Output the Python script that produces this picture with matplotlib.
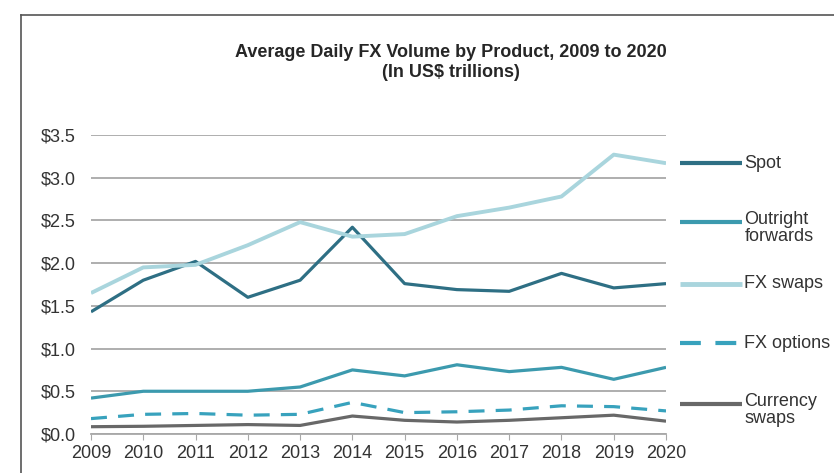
import matplotlib.pyplot as plt
from matplotlib.lines import Line2D

plt.rcParams['font.family'] = ['Liberation Sans', 'DejaVu Sans']

years = [2009, 2010, 2011, 2012, 2013, 2014, 2015, 2016, 2017, 2018, 2019, 2020]

spot = [1.43, 1.80, 2.02, 1.60, 1.80, 2.42, 1.76, 1.69, 1.67, 1.88, 1.71, 1.76]
outright = [0.42, 0.50, 0.50, 0.50, 0.55, 0.75, 0.68, 0.81, 0.73, 0.78, 0.64, 0.78]
fx_swaps = [1.65, 1.95, 1.98, 2.21, 2.48, 2.31, 2.34, 2.55, 2.65, 2.78, 3.27, 3.17]
fx_options = [0.18, 0.23, 0.24, 0.22, 0.23, 0.37, 0.25, 0.26, 0.28, 0.33, 0.32, 0.27]
cur_swaps = [0.085, 0.09, 0.10, 0.11, 0.10, 0.21, 0.16, 0.14, 0.16, 0.19, 0.22, 0.15]

y_ticks = [0.0, 0.5, 1.0, 1.5, 2.0, 2.5, 3.0, 3.5]
y_labels = ['$0.0', '$0.5', '$1.0', '$1.5', '$2.0', '$2.5', '$3.0', '$3.5']

series = [
    ('Spot', spot, '#2e6f84', '-', 2.3),
    ('Outright\nforwards', outright, '#3c9aae', '-', 2.3),
    ('FX swaps', fx_swaps, '#a9d5dd', '-', 2.8),
    ('FX options', fx_options, '#38a2bd', (0, (5, 3.5)), 2.3),
    ('Currency\nswaps', cur_swaps, '#686868', '-', 2.3),
]

fig = plt.figure(figsize=(8.34, 4.73), dpi=100)
ax = fig.add_axes([0.1091, 0.0825, 0.6895, 0.6321])

for name, vals, col, ls, lw in series:
    ax.plot(years, vals, color=col, linestyle=ls, linewidth=lw,
            solid_capstyle='butt', zorder=3)

ax.set_xlim(2009, 2020)
ax.set_ylim(0, 3.5)
ax.set_xticks(years)
ax.set_xticklabels([str(y) for y in years])
ax.set_yticks(y_ticks)
ax.set_yticklabels(y_labels)
ax.yaxis.grid(True, color='#a8a8a8', linewidth=1.3)
ax.set_axisbelow(True)
for s in ['top', 'right', 'left']:
    ax.spines[s].set_visible(False)
ax.spines['bottom'].set_color('#a8a8a8')
ax.spines['bottom'].set_linewidth(1.3)
ax.tick_params(axis='y', length=0, pad=11, labelsize=13, labelcolor='#333333')
ax.tick_params(axis='x', length=4, color='#a8a8a8', direction='out',
               pad=4, labelsize=13, labelcolor='#333333')

# legend on the right, drawn by hand to match the spacing
leg_y = [3.17, 2.48, 1.76, 1.06, 0.35]
for (name, vals, col, ls, lw), yy in zip(series, leg_y):
    ax.plot([2020.27, 2021.45], [yy, yy], color=col, linestyle=ls, linewidth=lw + 0.7,
            solid_capstyle='butt', clip_on=False)
    two = '\n' in name
    ax.text(2021.5, yy + 0.13 if two else yy, name, ha='left',
            va='top' if two else 'center',
            fontsize=13, color='#333333', linespacing=1.0, clip_on=False)

fig.text(0.541, 0.888, 'Average Daily FX Volume by Product, 2009 to 2020',
         ha='center', va='center', fontsize=13, fontweight='bold', color='#262626')
fig.text(0.541, 0.846, '(In US$ trillions)', ha='center', va='center',
         fontsize=13, fontweight='bold', color='#262626')

# outer frame
fig.add_artist(Line2D([0.025, 1.0], [0.968, 0.968], color='#555555', linewidth=1.2))
fig.add_artist(Line2D([0.025, 0.025], [0.0, 0.968], color='#555555', linewidth=1.2))

fig.savefig('out.png', dpi=100)
